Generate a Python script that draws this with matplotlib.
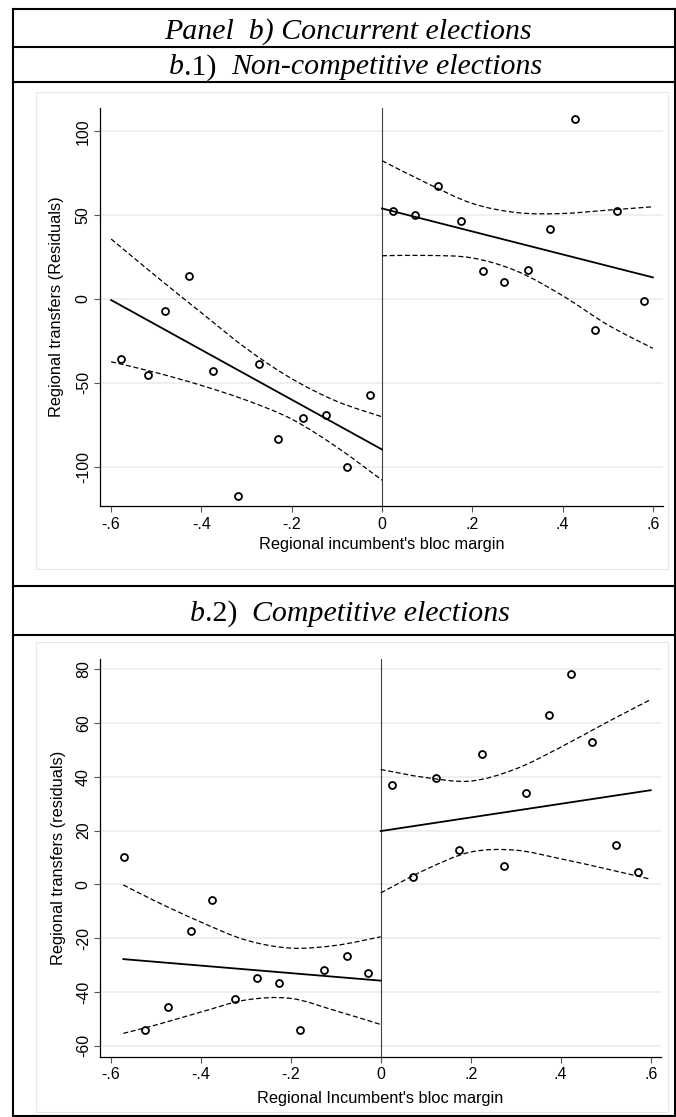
import matplotlib
matplotlib.use("Agg")
import matplotlib.pyplot as plt
from matplotlib.lines import Line2D
from matplotlib.patches import Rectangle, PathPatch
from matplotlib.path import Path

plt.rcParams['font.family'] = ['Liberation Sans', 'DejaVu Sans']
plt.rcParams['lines.scale_dashes'] = False

W, H = 676, 1117

# ---------------- Panel b.1: Non-competitive elections ----------------
b1_left_x = [-0.579, -0.518, -0.480, -0.427, -0.375, -0.318, -0.273, -0.230, -0.176, -0.123, -0.077, -0.026]
b1_left_y = [-35.5, -45.5, -7.1, 14.0, -42.9, -117.5, -38.9, -83.5, -70.9, -69.0, -100.0, -57.2]
b1_right_x = [0.024, 0.072, 0.124, 0.174, 0.224, 0.270, 0.324, 0.373, 0.427, 0.472, 0.520, 0.580]
b1_right_y = [52.6, 50.4, 67.2, 46.7, 17.0, 10.4, 17.2, 41.7, 107.4, -18.6, 52.2, -1.0]

b1_fit_left_x = [-0.6, 0.0]
b1_fit_left_y = [-0.6, -89.7]
b1_ci_left_x = [-0.6, -0.5, -0.4, -0.3, -0.2, -0.1, 0.0]
b1_ci_left_hi = [35.8, 13.5, -8.2, -29.6, -47.5, -61.0, -70.2]
b1_ci_left_lo = [-37.4, -43.9, -51.5, -60.4, -71.6, -88.3, -108.0]

b1_fit_right_x = [0.0, 0.6]
b1_fit_right_y = [54.0, 12.9]
b1_ci_right_x = [0.0, 0.1, 0.2, 0.3, 0.4, 0.5, 0.6]
b1_ci_right_hi = [82.5, 69.0, 57.0, 51.5, 51.0, 53.0, 55.0]
b1_ci_right_lo = [25.8, 26.0, 24.5, 16.5, 2.0, -15.4, -29.4]

# ---------------- Panel b.2: Competitive elections ----------------
b2_left_x = [-0.571, -0.523, -0.473, -0.421, -0.374, -0.324, -0.276, -0.227, -0.179, -0.126, -0.074, -0.029]
b2_left_y = [10.2, -54.0, -45.6, -17.5, -5.7, -42.8, -34.7, -36.5, -54.0, -31.8, -26.7, -33.0]
b2_right_x = [0.024, 0.071, 0.123, 0.173, 0.225, 0.274, 0.323, 0.374, 0.424, 0.469, 0.523, 0.572]
b2_right_y = [36.8, 2.9, 39.7, 12.6, 48.4, 6.8, 34.1, 63.0, 78.2, 53.0, 14.7, 4.5]

b2_fit_left_x = [-0.572, 0.0]
b2_fit_left_y = [-27.8, -35.8]
b2_ci_left_x = [-0.572, -0.5, -0.4, -0.3, -0.2, -0.1, 0.0]
b2_ci_left_hi = [-0.2, -6.3, -14.0, -20.7, -23.7, -22.7, -19.5]
b2_ci_left_lo = [-55.4, -52.3, -47.5, -43.0, -42.4, -47.0, -52.1]

b2_fit_right_x = [0.0, 0.6]
b2_fit_right_y = [19.8, 35.0]
b2_ci_right_x = [0.0, 0.1, 0.2, 0.3, 0.4, 0.5, 0.6]
b2_ci_right_hi = [42.7, 39.7, 38.4, 42.9, 51.0, 60.0, 68.7]
b2_ci_right_lo = [-3.2, 5.5, 12.0, 12.7, 9.5, 5.8, 1.9]

x_ticks = [-0.6, -0.4, -0.2, 0.0, 0.2, 0.4, 0.6]
x_ticklabels = ["-.6", "-.4", "-.2", "0", ".2", ".4", ".6"]
b1_yticks = [-100, -50, 0, 50, 100]
b2_yticks = [-60, -40, -20, 0, 20, 40, 60, 80]

b1_ylabel = "Regional transfers (Residuals)"
b1_xlabel = "Regional incumbent's bloc margin"
b2_ylabel = "Regional transfers (residuals)"
b2_xlabel = "Regional Incumbent's bloc margin"

fig = plt.figure(figsize=(W / 100, H / 100), dpi=100)
fig.patch.set_facecolor('white')


def fx(px):
    return px / W


def fy(py):
    return 1 - py / H


def hline(py, x0=13.3, x1=674.5, lw=1.5, color='black'):
    fig.add_artist(Line2D([fx(x0), fx(x1)], [fy(py), fy(py)], transform=fig.transFigure,
                          color=color, lw=lw, solid_capstyle='projecting'))


def vline(px, y0, y1, lw=1.5, color='black'):
    fig.add_artist(Line2D([fx(px), fx(px)], [fy(y0), fy(y1)], transform=fig.transFigure,
                          color=color, lw=lw, solid_capstyle='projecting'))


# table frame
for py in [9.3, 46.7, 81.7, 586.2, 634.8, 1115.5]:
    hline(py)
vline(13.3, 9.3, 1115.5)
vline(674.5, 9.3, 1115.5)

# graph region outlines (light)
fig.add_artist(Rectangle((fx(36), fy(568.6)), (668 - 36) / W, (568.6 - 91.7) / H,
                         transform=fig.transFigure, fill=False, ec='#e0e9ec', lw=0.8))
fig.add_artist(Rectangle((fx(36), fy(1112)), (668 - 36) / W, (1112 - 641.7) / H,
                         transform=fig.transFigure, fill=False, ec='#e0e9ec', lw=0.8))

renderer = fig.canvas.get_renderer()


def header(cx, base, pieces, size=21.5):
    em = size * 100 / 72
    items = []
    total = 0.0
    for s, st in pieces:
        if s is None:
            items.append((None, st * em))
            total += st * em
            continue
        t = fig.text(0, fy(base), s, fontsize=size, family=['Liberation Serif', 'DejaVu Serif'],
                     style=st, va='baseline', ha='left')
        w = t.get_window_extent(renderer).width
        items.append((t, w))
        total += w
    x = cx - total / 2
    for t, w in items:
        if t is not None:
            t.set_x(fx(x))
        x += w


header(348, 38.3, [("Panel  b) Concurrent elections", 'italic')])
header(356, 74.5, [("b", 'italic'), (".1)", 'normal'), (None, 0.5), ("Non-competitive elections", 'italic')])
header(350, 621.0, [("b", 'italic'), (".2)", 'normal'), (None, 0.5), ("Competitive elections", 'italic')])


def smooth_curve(ax, xs, ys, **kw):
    """Smooth curve drawn through the read-off points (Catmull-Rom as Bezier path)."""
    pts = list(zip(xs, ys))
    verts = [pts[0]]
    codes = [Path.MOVETO]
    n = len(pts)
    for i in range(n - 1):
        p0 = pts[i - 1] if i > 0 else pts[i]
        p1 = pts[i]
        p2 = pts[i + 1]
        p3 = pts[i + 2] if i + 2 < n else pts[i + 1]
        c1 = (p1[0] + (p2[0] - p0[0]) / 6, p1[1] + (p2[1] - p0[1]) / 6)
        c2 = (p2[0] - (p3[0] - p1[0]) / 6, p2[1] - (p3[1] - p1[1]) / 6)
        verts += [c1, c2, p2]
        codes += [Path.CURVE4] * 3
    patch = PathPatch(Path(verts, codes), fill=False, **kw)
    ax.add_patch(patch)


def panel(rect, xlim, ylim, yticks, lx, ly, rx, ry, flx, fly, frx, fry,
          cl_x, cl_hi, cl_lo, cr_x, cr_hi, cr_lo, ylabel, xlabel, xlab_y, ylab_x):
    ax = fig.add_axes(rect)
    ax.set_facecolor('white')
    ax.set_xlim(*xlim)
    ax.set_ylim(*ylim)
    for s in ['top', 'right']:
        ax.spines[s].set_visible(False)
    for s in ['left', 'bottom']:
        ax.spines[s].set_color('black')
        ax.spines[s].set_linewidth(0.9)
    ax.set_xticks(x_ticks)
    ax.set_xticklabels(x_ticklabels)
    ax.set_yticks(yticks)
    ax.set_yticklabels([str(v) for v in yticks], rotation=90, va='center')
    ax.tick_params(axis='both', length=4.3, width=0.8, color='#555555', labelsize=11.5,
                   labelcolor='black')
    ax.tick_params(axis='x', pad=3.3)
    ax.tick_params(axis='y', pad=2.3)
    ax.yaxis.grid(True, color='#e6eef0', lw=1.1)
    ax.set_axisbelow(True)
    ax.axvline(0, color='#404040', lw=0.8, zorder=1.5)

    dash = (0, (3.6, 1.9))
    for cx, cy in [(cl_x, cl_hi), (cl_x, cl_lo), (cr_x, cr_hi), (cr_x, cr_lo)]:
        smooth_curve(ax, cx, cy, ec='black', lw=0.9, ls=dash, zorder=3)
    ax.plot(flx, fly, color='black', lw=1.3, zorder=3)
    ax.plot(frx, fry, color='black', lw=1.3, zorder=3)
    ax.plot(lx, ly, 'o', mfc='none', mec='black', ms=5.0, mew=1.3, zorder=4, clip_on=False)
    ax.plot(rx, ry, 'o', mfc='none', mec='black', ms=5.0, mew=1.3, zorder=4, clip_on=False)

    ax.set_ylabel(ylabel, fontsize=11.8)
    ax.yaxis.set_label_coords(ylab_x, 0.5)
    ax.yaxis.label.set_verticalalignment('center')
    ax.set_xlabel(xlabel, fontsize=11.8)
    ax.xaxis.set_label_coords(0.5, xlab_y)
    ax.xaxis.label.set_verticalalignment('center')
    return ax


# top panel axes: left 100, right 663, top 108, bottom 506 (px)
panel([fx(100), fy(506), 563 / W, 398 / H], (-0.6246, 0.6224), (-123.4, 113.9), b1_yticks,
      b1_left_x, b1_left_y, b1_right_x, b1_right_y,
      b1_fit_left_x, b1_fit_left_y, b1_fit_right_x, b1_fit_right_y,
      b1_ci_left_x, b1_ci_left_hi, b1_ci_left_lo,
      b1_ci_right_x, b1_ci_right_hi, b1_ci_right_lo,
      b1_ylabel, b1_xlabel, (506 - 545) / 398, (57 - 100) / 563)

# bottom panel axes: left 100, right 661, top 659.2, bottom 1056.5 (px)
panel([fx(100), fy(1056.5), 561 / W, 397.3 / H], (-0.6238, 0.6229), (-64.0, 83.7), b2_yticks,
      b2_left_x, b2_left_y, b2_right_x, b2_right_y,
      b2_fit_left_x, b2_fit_left_y, b2_fit_right_x, b2_fit_right_y,
      b2_ci_left_x, b2_ci_left_hi, b2_ci_left_lo,
      b2_ci_right_x, b2_ci_right_hi, b2_ci_right_lo,
      b2_ylabel, b2_xlabel, (1056.5 - 1098) / 397.3, (59 - 100) / 561)

fig.savefig("out.png", dpi=100, facecolor='white')
